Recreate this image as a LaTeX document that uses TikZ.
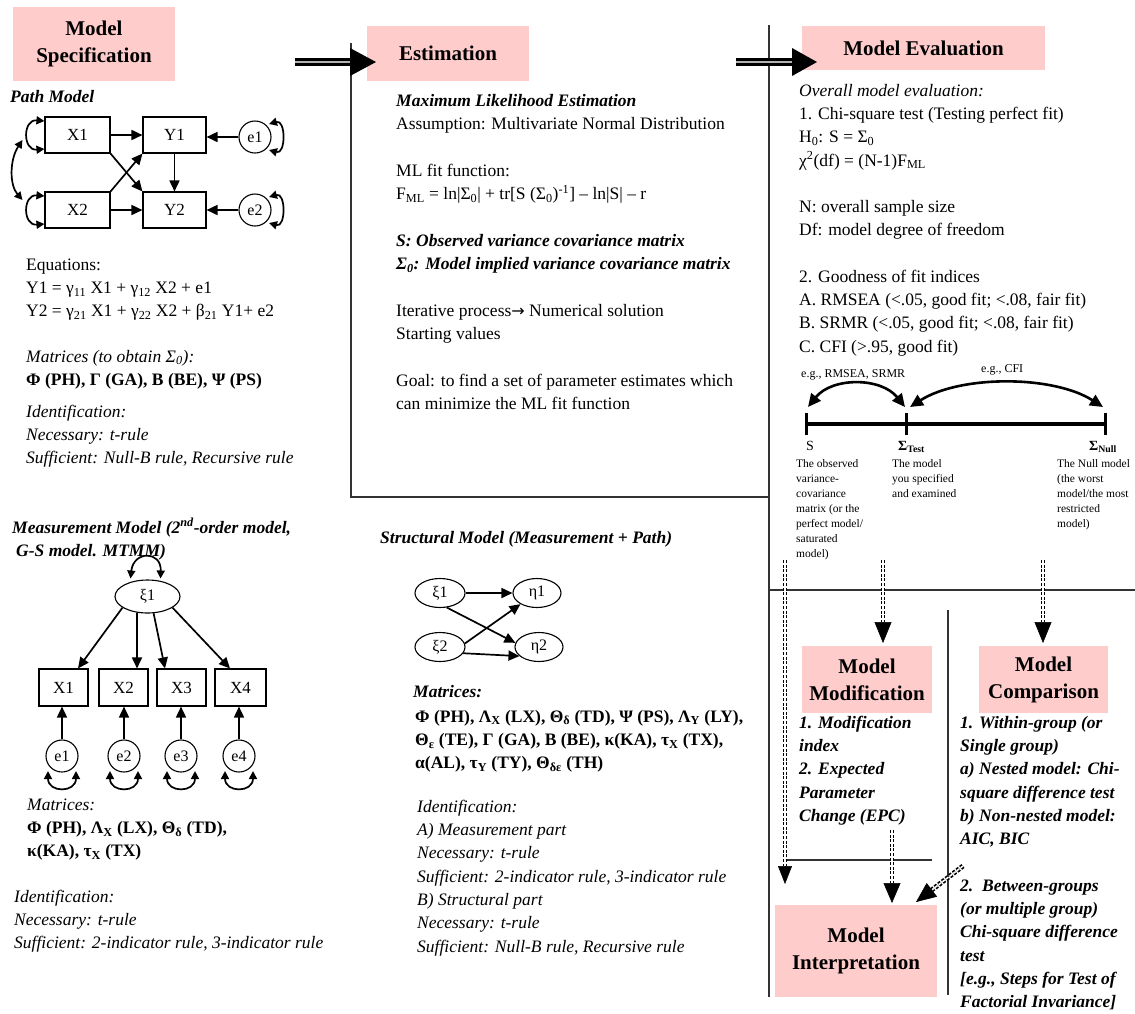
\documentclass[tikz,border=0pt]{standalone}
\usepackage{fontspec}
\setmainfont{Liberation Serif}
\newfontfamily\arrowfont{DejaVu Sans}
\usetikzlibrary{arrows.meta,shapes.geometric,calc}
\definecolor{hdr}{HTML}{FFCCCC}
\definecolor{rulec}{HTML}{333333}
\newcommand{\tsb}[1]{\textsubscript{#1}}
\newcommand{\tsp}[1]{\textsuperscript{#1}}
\newcommand{\firstln}{\rule{0pt}{15pt}}
\newcommand{\smln}{\rule{0pt}{10pt}}
\newcommand{\mfs}{\fontsize{17.5}{23.3}\selectfont}
\begin{document}
\begin{tikzpicture}[x=1pt,y=-1pt,
  hdrbox/.style={fill=hdr, inner sep=0pt, align=center, font=\fontsize{21}{27}\selectfont\bfseries},
  blk/.style={anchor=north west, inner sep=0pt, align=left, font=\mfs},
  sml/.style={anchor=north west, inner sep=0pt, align=left, font=\fontsize{11.5}{15}\selectfont},
  lbl/.style={anchor=base west, inner sep=0pt},
  obs/.style={draw, line width=1.1pt, inner sep=0pt, font=\fontsize{17}{20}\selectfont},
  lat/.style={draw, ellipse, line width=1.1pt, inner sep=0pt, font=\fontsize{16}{20}\selectfont},
  err/.style={draw, circle, line width=1.1pt, inner sep=0pt, minimum size=32pt, font=\fontsize{16}{20}\selectfont},
  arr/.style={line width=1.7pt, -{Triangle[length=11pt,width=10pt]}},
  covar/.style={line width=1.7pt, {Triangle[length=8pt,width=8pt]}-{Triangle[length=8pt,width=8pt]}},
  bigarc/.style={line width=2.6pt, {Triangle[length=13pt,width=12pt]}-{Triangle[length=13pt,width=12pt]}},
  divline/.style={line width=1.2pt, draw=rulec},
  dblshaft/.style={line width=3pt, double=gray!60, double distance=2.5pt},
  ddash/.style={draw=black, line width=1.7pt, double=white, double distance=1.5pt, dash pattern=on 3pt off 1.6pt}
]
\useasboundingbox (0,0) rectangle (1135,1013);
\fill[white] (0,0) rectangle (1135,1013);

% ---------- header boxes ----------
\node[hdrbox, minimum width=162pt, minimum height=74pt] (spec) at (94,44) {Model\\Specification};
\node[hdrbox, minimum width=162pt, minimum height=55pt] (est) at (448,53.5) {Estimation};
\node[hdrbox, minimum width=243pt, minimum height=44pt] (eval) at (923.5,48) {Model Evaluation};
\node[hdrbox, minimum width=130pt, minimum height=67pt] (modif) at (867,679.5) {Model\\Modification};
\node[hdrbox, minimum width=129pt, minimum height=67pt] (comp) at (1043.5,679.5) {Model\\Comparison};
\node[hdrbox, minimum width=162pt, minimum height=92pt] (interp) at (856,951) {Model\\Interpretation};

% ---------- divider lines ----------
\draw[divline] (351,43) -- (351,497) -- (769,497);
\draw[divline] (769,25) -- (769,997);
\draw[divline] (769,590) -- (1135,590);
\draw[divline] (948,610) -- (948,995);
\draw[divline] (785,860) -- (932,860);

% ---------- top arrows ----------
\coordinate (a1s) at (295,62); \coordinate (a1e) at (350,62);
\draw[dblshaft] (a1s) -- (a1e);
\fill ($(a1e)+(0,-14)$) -- ($(a1e)+(26,0)$) -- ($(a1e)+(0,14)$) -- cycle;
\coordinate (a2s) at (736,62); \coordinate (a2e) at (792,62);
\draw[dblshaft] (a2s) -- (a2e);
\fill ($(a2e)+(0,-14)$) -- ($(a2e)+(25,0)$) -- ($(a2e)+(0,14)$) -- cycle;

% ---------- path model ----------
\node[lbl, font=\mfs\bfseries\itshape] (pathttl) at (10,102) {Path Model};
\node[obs, minimum width=65pt, minimum height=36pt] (px1) at (77.5,135) {X1};
\node[obs, minimum width=63pt, minimum height=36pt] (py1) at (174.5,135) {Y1};
\node[obs, minimum width=65pt, minimum height=36pt] (px2) at (77.5,210) {X2};
\node[obs, minimum width=63pt, minimum height=36pt] (py2) at (174.5,210) {Y2};
\node[err] (pe1) at (255,137) {e1};
\node[err] (pe2) at (255,210) {e2};
\draw[arr] (px1) -- (py1);
\draw[arr] (px2) -- (py2);
\draw[arr] (px1.south east) -- (py2.north west);
\draw[arr] (px2.north east) -- (py1.south west);
\draw[arr] (py1) -- (py2);
\draw[arr] (pe1.west) -- (pe1 -| py1.east);
\draw[arr] (pe2) -- (py2);
\draw[covar] ($(px1.west)+(0,-14)$) .. controls ($(px1.west)+(-22,-16)$) and ($(px1.west)+(-22,16)$) .. ($(px1.west)+(0,14)$);
\draw[covar] ($(px2.west)+(0,-14)$) .. controls ($(px2.west)+(-22,-16)$) and ($(px2.west)+(-22,16)$) .. ($(px2.west)+(0,14)$);
\draw[covar] ($(px1.west)+(-22,5)$) .. controls ($(px1.west)+(-35,25)$) and ($(px2.west)+(-35,-25)$) .. ($(px2.west)+(-22,-10)$);
\draw[covar] ($(pe1)+(14,-13)$) .. controls ($(pe1)+(31,-18)$) and ($(pe1)+(31,18)$) .. ($(pe1)+(14,13)$);
\draw[covar] ($(pe2)+(14,-13)$) .. controls ($(pe2)+(31,-18)$) and ($(pe2)+(31,18)$) .. ($(pe2)+(14,13)$);

\node[blk] (eqs) at (26,255) {\firstln Equations:\\ Y1 = γ\tsb{11} X1 + γ\tsb{12} X2 + e1\\ Y2 = γ\tsb{21} X1 + γ\tsb{22} X2 + β\tsb{21} Y1+ e2};
\node[blk] (pmat) at (26,347) {\firstln\textit{Matrices (to obtain Σ\tsb{0}):}\\ \textbf{Φ (PH), Γ (GA), Β (BE), Ψ (PS)}};
\node[blk, font=\mfs\itshape] (pid) at (26,402) {\firstln Identification:\\ Necessary: t-rule\\ Sufficient: Null-B rule, Recursive rule};

% ---------- measurement model ----------
\node[blk, font=\mfs\bfseries\itshape] (mttl) at (12,518) {\firstln Measurement Model (2\tsp{nd}-order model,\\ \hspace*{4pt}G-S model. MTMM)};
\node[lat, minimum width=65pt, minimum height=33pt] (mxi) at (147.5,596.5) {ξ1};
\node[obs, minimum width=49pt, minimum height=37pt] (mx1) at (63.5,687.5) {X1};
\node[obs, minimum width=49pt, minimum height=37pt] (mx2) at (123.5,687.5) {X2};
\node[obs, minimum width=49pt, minimum height=37pt] (mx3) at (181.5,687.5) {X3};
\node[obs, minimum width=51pt, minimum height=37pt] (mx4) at (240.5,687.5) {X4};
\node[err] (me1) at (62,756) {e1};
\node[err] (me2) at (124,756) {e2};
\node[err] (me3) at (181,756) {e3};
\node[err] (me4) at (239,756) {e4};
\draw[arr] (mxi.204) -- ([xshift=14.5pt]mx1.north);
\draw[arr] (mxi.237) -- ([xshift=13.5pt]mx2.north);
\draw[arr] (mxi.290) -- ([xshift=-16.5pt]mx3.north);
\draw[arr] (mxi.336) -- ([xshift=-10.5pt]mx4.north);
\draw[covar] ($(mxi)+(-17,-18)$) .. controls ($(mxi)+(-14,-46)$) and ($(mxi)+(14,-46)$) .. ($(mxi)+(13,-18)$);
\foreach \e/\x in {me1/mx1, me2/mx2, me3/mx3, me4/mx4}{
  \draw[arr] (\e) -- (\e |- \x.south);
  \draw[covar] ($(\e)+(-14,15)$) .. controls ($(\e)+(-14,37)$) and ($(\e)+(14,37)$) .. ($(\e)+(14,15)$);
}
\node[blk] (mmat) at (27,795) {\firstln\textit{Matrices:}\\ \textbf{Φ (PH), Λ\tsb{X} (LX), Θ\tsb{δ} (TD),}\\ \textbf{κ(KA), τ\tsb{X} (TX)}};
\node[blk, font=\mfs\itshape] (mid) at (14,887) {\firstln Identification:\\ Necessary: t-rule\\ Sufficient: 2-indicator rule, 3-indicator rule};

% ---------- estimation ----------
\node[blk] (es1) at (396,91) {\firstln\textbf{\textit{Maximum Likelihood Estimation}}\\ Assumption: Multivariate Normal Distribution};
\node[blk] (es2) at (396,161) {\firstln ML fit function:\\ F\tsb{ML} = ln|Σ\tsb{0}| + tr[S (Σ\tsb{0})\tsp{-1}] – ln|S| – r};
\node[blk, font=\mfs\bfseries\itshape] (es3) at (396,231) {\firstln S: Observed variance covariance matrix\\ Σ\tsb{0}: Model implied variance covariance matrix};
\node[blk] (es4) at (396,301) {\firstln Iterative process{\arrowfont\fontsize{16}{20}\selectfont →} Numerical solution\\ Starting values};
\node[blk] (es5) at (396,371) {\firstln Goal: to find a set of parameter estimates which\\ can minimize the ML fit function};

% ---------- structural model ----------
\node[blk, font=\mfs\bfseries\itshape] (sttl) at (380,528) {\firstln Structural Model (Measurement + Path)};
\node[lat, minimum width=50pt, minimum height=29pt] (sxi1) at (440,593) {ξ1};
\node[lat, minimum width=48pt, minimum height=29pt] (seta1) at (537,593) {η1};
\node[lat, minimum width=50pt, minimum height=29pt] (sxi2) at (440,647) {ξ2};
\node[lat, minimum width=48pt, minimum height=29pt] (seta2) at (539,647) {η2};
\draw[arr] (sxi1) -- (seta1);
\draw[arr] (sxi1.295) -- (seta2.170);
\draw[arr] (sxi2.8) -- (seta1.214);
\draw[arr] (sxi2.345) -- (seta2.205);
\node[blk, font=\mfs\bfseries\itshape] (smh) at (413,682) {\firstln Matrices:};
\node[blk, font=\mfs\bfseries] (smat) at (415,707) {\firstln Φ (PH), Λ\tsb{X} (LX), Θ\tsb{δ} (TD), Ψ (PS), Λ\tsb{Y} (LY),\\ Θ\tsb{ε} (TE), Γ (GA), Β (BE), κ(KA), τ\tsb{X} (TX),\\ α(AL), τ\tsb{Y} (TY), Θ\tsb{δε} (TH)};
\node[blk, font=\mfs\itshape] (sid) at (417,797) {\firstln Identification:\\ A) Measurement part\\ Necessary: t-rule\\ Sufficient: 2-indicator rule, 3-indicator rule\\ B) Structural part\\ Necessary: t-rule\\ Sufficient: Null-B rule, Recursive rule};

% ---------- model evaluation ----------
\node[blk] (ev1) at (799,81) {\firstln\textit{Overall model evaluation:}\\ 1. Chi-square test (Testing perfect fit)\\ H\tsb{0}: S = Σ\tsb{0}\\ χ\tsp{2}(df) = (N-1)F\tsb{ML}};
\node[blk] (ev2) at (799,197) {\firstln N: overall sample size\\ Df: model degree of freedom};
\node[blk] (ev3) at (799,267) {\firstln 2. Goodness of fit indices\\ A. RMSEA (<.05, good fit; <.08, fair fit)\\ B. SRMR (<.05, good fit; <.08, fair fit)\\ C. CFI (>.95, good fit)};

% number line
\coordinate (nlS) at (806,424); \coordinate (nlT) at (906,424); \coordinate (nlN) at (1105,424);
\draw[line width=4pt] (nlS) -- (nlN);
\foreach \c in {nlS,nlT,nlN}{\draw[line width=3pt] ($(\c)+(0,-11)$) -- ($(\c)+(0,11)$);}
\coordinate (aL1) at (808,407); \coordinate (aL2) at (905,407);
\draw[bigarc] (aL1) .. controls (832,377) and (881,377) .. (aL2);
\coordinate (aR1) at (910,407); \coordinate (aR2) at (1103,407);
\draw[bigarc] (aR1) .. controls (960,375) and (1053,375) .. (aR2);
\node[lbl, font=\fontsize{12}{14}\selectfont] (egl) at (801,377) {e.g., RMSEA, SRMR};
\node[lbl, font=\fontsize{12}{14}\selectfont] (egr) at (981,372) {e.g., CFI};
\node[lbl, font=\fontsize{14}{16}\selectfont] (lS) at (806,450) {S};
\node[lbl, font=\fontsize{14}{16}\selectfont\bfseries] (lT) at (898,450) {Σ\tsb{Test}};
\node[lbl, font=\fontsize{14}{16}\selectfont\bfseries] (lN) at (1089,450) {Σ\tsb{Null}};
\node[sml] (dS) at (796,457) {\smln The observed\\ variance-\\ covariance\\ matrix (or the\\ perfect model/\\ saturated\\ model)};
\node[sml] (dT) at (892,457) {\smln The model\\ you specified\\ and examined};
\node[sml] (dN) at (1057,457) {\smln The Null model\\ (the worst\\ model/the most\\ restricted\\ model)};

% ---------- dashed double arrows ----------
\coordinate (dLs) at (785,560); \coordinate (dLb) at (785,866); \coordinate (dLt) at (785,884);
\draw[ddash] (dLs) -- (dLb);
\draw[line width=0.5pt, -{Triangle[length=18pt,width=14pt]}] (dLb) -- (dLt);
\coordinate (dMs) at (883,560); \coordinate (dMb) at (883,622); \coordinate (dMt) at (883,643);
\draw[ddash] (dMs) -- (dMb);
\draw[line width=0.5pt, -{Triangle[length=21pt,width=17pt]}] (dMb) -- (dMt);
\coordinate (dRs) at (1043,560); \coordinate (dRb) at (1043,622); \coordinate (dRt) at (1043,643);
\draw[ddash] (dRs) -- (dRb);
\draw[line width=0.5pt, -{Triangle[length=21pt,width=17pt]}] (dRb) -- (dRt);
\coordinate (dIs) at (892,830); \coordinate (dIb) at (892,883); \coordinate (dIt) at (892,903);
\draw[ddash] (dIs) -- (dIb);
\draw[line width=0.5pt, -{Triangle[length=20pt,width=17pt]}] (dIb) -- (dIt);
\coordinate (dCs) at (963,866); \coordinate (dCt) at (916,902);
\coordinate (dCb) at ($(dCt)!20pt!(dCs)$);
\draw[ddash] (dCs) -- (dCb);
\draw[line width=0.5pt, -{Triangle[length=20pt,width=17pt]}] (dCb) -- (dCt);

% ---------- modification / comparison texts ----------
\node[blk, font=\mfs\bfseries\itshape] (modt) at (799,713) {\firstln 1. Modification\\ index\\ 2. Expected\\ Parameter\\ Change (EPC)};
\node[blk, font=\mfs\bfseries\itshape] (compa) at (960,713) {\firstln 1. Within-group (or\\ Single group)\\ a) Nested model: Chi-\\ square difference test\\ b) Non-nested model:\\ AIC, BIC};
\node[blk, font=\mfs\bfseries\itshape] (compb) at (960,876) {\firstln 2.\ \ Between-groups\\ (or multiple group)\\ Chi-square difference\\ test\\ {[}e.g., Steps for Test of\\ Factorial Invariance{]}};
\end{tikzpicture}
\end{document}
